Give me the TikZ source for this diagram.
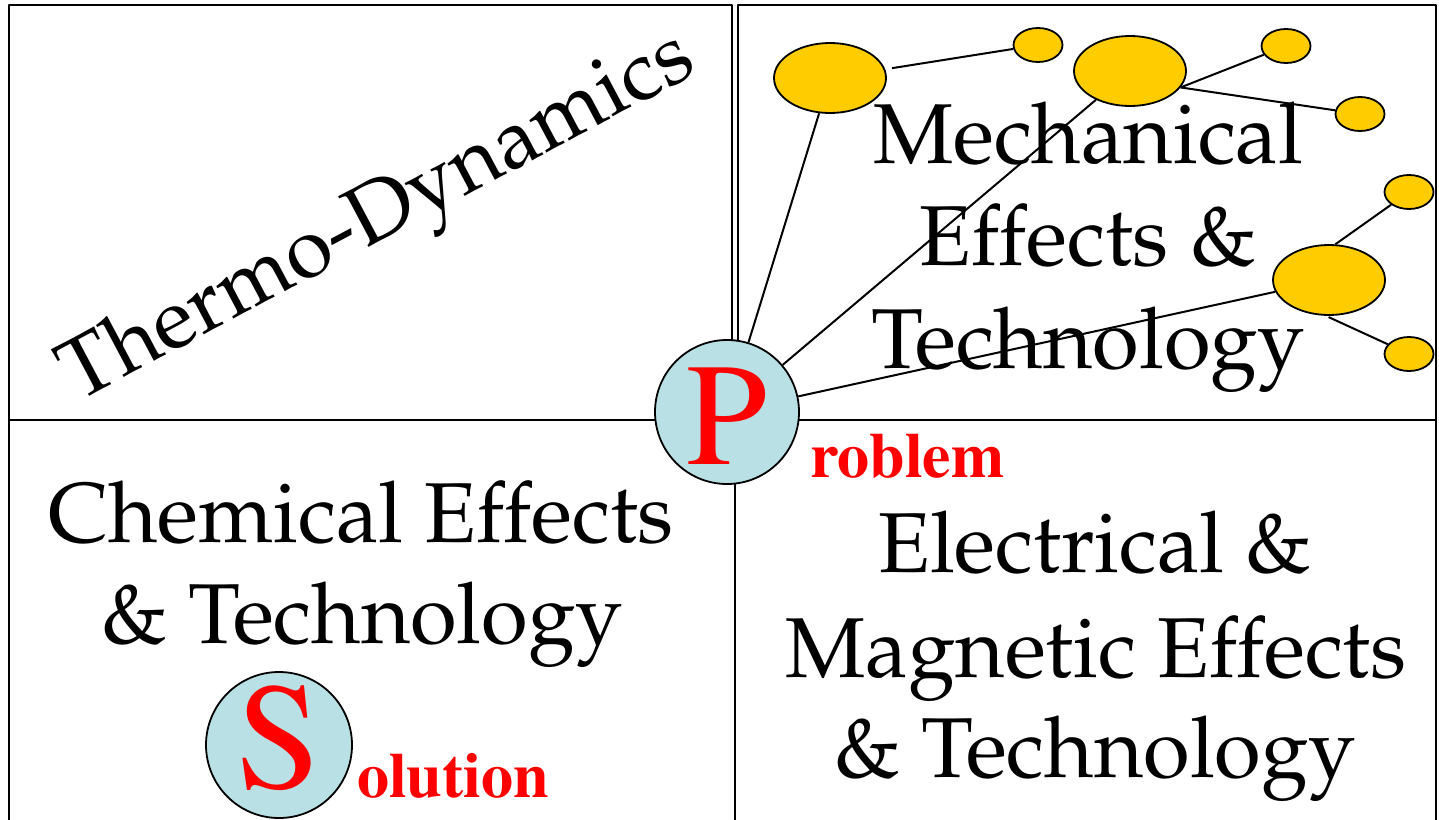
\documentclass[tikz,border=0pt]{standalone}
\usepackage[T1]{fontenc}
\usetikzlibrary{shapes.geometric}

\definecolor{discfill}{RGB}{185,224,228}
\definecolor{blobfill}{RGB}{255,204,0}
\newcommand{\palat}{\fontfamily{ppl}\fontsize{85}{100}\selectfont}
\newcommand{\timesat}[1]{\fontfamily{ptm}\fontsize{#1}{#1}\selectfont}

\begin{document}
\begin{tikzpicture}[x=1pt, y=-1pt, line join=round,
    panel/.style={draw=black, line width=2.4pt},
    field/.style={font=\palat, anchor=base, inner sep=0pt},
    disc/.style={circle, draw=black, line width=1.8pt, fill=discfill,
        inner sep=0pt, minimum size=144pt, text=red},
    tail/.style={anchor=base west, inner sep=0pt, text=red,
        font=\timesat{64}\bfseries},
    bigblob/.style={ellipse, draw=black, line width=1.8pt, fill=blobfill,
        inner sep=0pt, minimum width=112pt, minimum height=70pt},
    smallblob/.style={bigblob, minimum width=49pt, minimum height=34pt},
    link/.style={line width=2pt}]
    \useasboundingbox (0,0) rectangle (1439,819);
    \clip (0,0) rectangle (1439,819);

    % four panels
    \draw[panel] (9,5) rectangle (732,420);
    \draw[panel] (738,5) rectangle (1436,420);
    \draw[panel] (9,420) rectangle (735,830);
    \draw[panel] (735,420) rectangle (1436,830);

    % panel titles
    \node[field, rotate=28] (thermo) at (388,237) {Thermo-Dynamics};
    \node[field] (mechA) at (1088,163) {Mechanical};
    \node[field] (mechB) at (1088,265) {Effects \&};
    \node[field] (mechC) at (1088,368) {Technology};
    \node[field] (chemA) at (361,542) {Chemical Effects};
    \node[field] (chemB) at (362,643) {\& Technology};
    \node[field] (elecA) at (1095,572) {Electrical \&};
    \node[field] (elecB) at (1096,677) {Magnetic Effects};
    \node[field] (elecC) at (1095,777) {\& Technology};

    % yellow blobs
    \node[bigblob] (blobA) at (830,78) {};
    \node[smallblob] (dotA) at (1038,45) {};
    \node[bigblob] (blobB) at (1130,71) {};
    \node[smallblob] (dotB) at (1286,46) {};
    \node[smallblob] (dotC) at (1360,114) {};
    \node[bigblob] (blobC) at (1329,280) {};
    \node[smallblob] (dotD) at (1409,192) {};
    \node[smallblob] (dotE) at (1409,354) {};

    % problem and solution discs
    \node[disc, font=\timesat{146}, text height=105pt] (prob) at (727,412) {P};
    \node[tail] (probtail) at (810,477) {roblem};
    \node[disc, minimum size=146pt, font=\timesat{152}, text depth=16pt] (sol) at (279,745) {S};
    \node[tail] (soltail) at (357,797) {olution};

    % links
    \draw[link] (prob) -- (blobA);
    \draw[link] (prob) -- (blobB);
    \draw[link] (prob) -- (blobC);
    \draw[link, shorten <=7pt] (blobA) -- (dotA);
    \draw[link] (blobB.-18) -- (dotB);
    \draw[link] (blobB.-18) -- (dotC);
    \draw[link] (blobC.80) -- (dotD);
    \draw[link, shorten <=3pt] (blobC.-95) -- (dotE);
\end{tikzpicture}
\end{document}
